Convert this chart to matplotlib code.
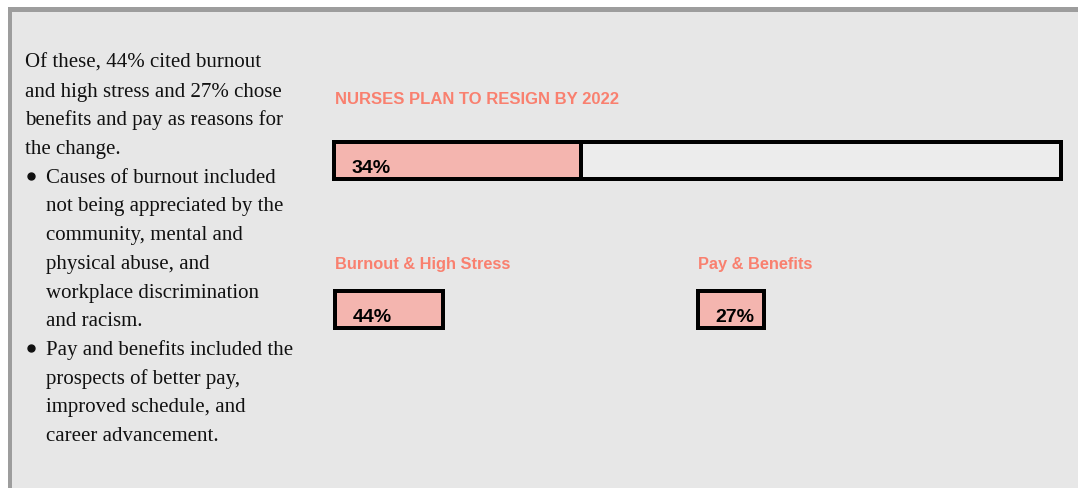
import matplotlib
matplotlib.use("Agg")
import matplotlib.pyplot as plt
from matplotlib.patches import Rectangle

# -- data ----------------------------------------------------------------------
TITLE = "NURSES PLAN TO RESIGN BY 2022"
resign_pct = 34
reason_labels = ["Burnout & High Stress", "Pay & Benefits"]
reason_pcts = [44, 27]

intro_lines = [
    "Of these, 44% cited burnout",
    "and high stress and 27% chose",
    "benefits and pay as reasons for",
    "the change.",
]
bullets = [
    ["Causes of burnout included", "not being appreciated by the",
     "community, mental and", "physical abuse, and",
     "workplace discrimination", "and racism."],
    ["Pay and benefits included the", "prospects of better pay,",
     "improved schedule, and", "career advancement."],
]

# -- styling -------------------------------------------------------------------
W, H = 1078, 489
DPI = 100
PANEL = "#e7e7e7"
BORDER = "#9d9d9d"
PINK = "#f4b5af"
SALMON = "#f9806f"
EDGE_PX = 4
EDGE_PT = EDGE_PX * 72 / DPI
SANS = "Liberation Sans"
SERIF = "Liberation Serif"
NOTE_SIZE = 15

fig = plt.figure(figsize=(W / DPI, H / DPI), dpi=DPI, facecolor="white")

# full-figure axes in pixel coordinates for the panel and the text
bg = fig.add_axes([0, 0, 1, 1])
bg.set_xlim(0, W)
bg.set_ylim(H, 0)
bg.axis("off")
bg.add_patch(Rectangle((8, 8), W - 8, H - 8, facecolor=BORDER, edgecolor="none"))
bg.add_patch(Rectangle((12, 13), W - 12, H - 13, facecolor=PANEL, edgecolor="none"))


def px_axes(x0, y0, x1, y1):
    """Axes placed by pixel box (top-left origin)."""
    return fig.add_axes([x0 / W, 1 - y1 / H, (x1 - x0) / W, (y1 - y0) / H])


# left-hand notes
line_h = 28.7
y = 68
for line in intro_lines:
    bg.text(25, y, line, fontsize=NOTE_SIZE, family=SERIF, color="#111111", va="baseline")
    y += line_h
for group in bullets:
    bg.plot([30.5], [y - 6], marker="o", markersize=5, color="#111111", linestyle="none")
    for line in group:
        bg.text(46, y, line, fontsize=NOTE_SIZE, family=SERIF, color="#111111",
                va="baseline")
        y += line_h

# title
bg.text(335, 99, TITLE, fontsize=12, fontweight="bold", family=SANS, color=SALMON, va="center")

# main bar: full-width box scaled 0-100
ax = px_axes(334, 143, 1061, 180)
ax.set_xlim(0, 100)
ax.set_ylim(-0.5, 0.5)
ax.set_facecolor("#ececec")
ax.barh(0, resign_pct, height=1, color=PINK)
ax.axvline(resign_pct, color="black", linewidth=EDGE_PT)
for s in ax.spines.values():
    s.set_linewidth(EDGE_PT)
ax.set_xticks([])
ax.set_yticks([])
ax.text(2.45, -0.18, f"{resign_pct}%", fontsize=14, fontweight="bold", family=SANS,
        va="center")

# reason bars: each box width proportional to its share
px_per_pct = 2.46
starts = [335, 698]
for label, pct, x0 in zip(reason_labels, reason_pcts, starts):
    bg.text(x0, 264, label, fontsize=11.8, fontweight="bold", family=SANS, color=SALMON,
            va="center")
    axr = px_axes(x0, 292, x0 + 100 * px_per_pct, 329)
    axr.set_xlim(0, 100)
    axr.set_ylim(-0.5, 0.5)
    axr.axis("off")
    bars = axr.barh(0, pct, height=1, color=PINK, edgecolor="black", linewidth=EDGE_PT)
    for b in bars:
        b.set_clip_on(False)
    axr.text(7.1, -0.18, f"{pct}%", fontsize=14, fontweight="bold", family=SANS,
             va="center")

fig.savefig("out.png", dpi=DPI, facecolor="white")
